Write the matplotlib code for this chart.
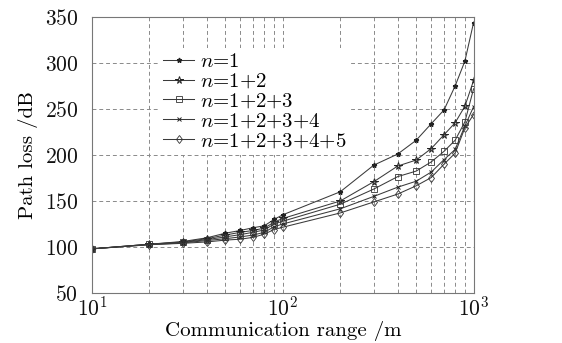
import matplotlib
matplotlib.use("Agg")
import matplotlib.pyplot as plt
from matplotlib.ticker import LogLocator, NullFormatter

plt.rcParams['font.family'] = ['cmr10', 'DejaVu Serif']
plt.rcParams['mathtext.fontset'] = 'cm'
plt.rcParams['axes.formatter.use_mathtext'] = True

distance = [10, 20, 30, 40, 50, 60, 70, 80, 90, 100,
            200, 300, 400, 500, 600, 700, 800, 900, 1000]
loss_n1 = [98, 103, 106, 110, 115, 118, 121, 123, 130, 135,
           160, 189, 201, 216, 234, 249, 275, 302, 344]
loss_n12 = [98, 103, 105.5, 109, 113, 116, 118, 120.5, 127, 131,
            150, 171, 188, 194.5, 207, 222, 235, 253, 281]
loss_n123 = [98, 103, 105, 108, 111, 113.5, 116, 118.5, 125, 128,
             146.5, 163, 176.5, 182.5, 192.5, 204, 216, 236, 272]
loss_n1234 = [98, 102.5, 104.5, 107, 109, 111, 113, 116, 122, 125,
              141.5, 155, 165, 171.5, 181.5, 195, 206, 231.5, 252.5]
loss_n12345 = [98, 102.5, 104, 105.5, 107.5, 108.5, 110.5, 114, 119, 121.5,
               137, 149, 157.5, 166.5, 175.5, 190, 202, 229.5, 244]
labels = ['$n$=1', '$n$=1+2', '$n$=1+2+3', '$n$=1+2+3+4', '$n$=1+2+3+4+5']
y_ticks = [50, 100, 150, 200, 250, 300, 350]

series = [loss_n1, loss_n12, loss_n123, loss_n1234, loss_n12345]
styles = [
    dict(marker='*', ms=3.5, mfc='#222222', mec='#222222'),
    dict(marker='*', ms=5.5, mfc='none', mec='#222222', mew=0.7),
    dict(marker='s', ms=4.5, mfc='none', mec='#333333', mew=0.6),
    dict(marker='x', ms=3, mec='#222222', mew=0.7),
    dict(marker='d', ms=4.5, mfc='none', mec='#333333', mew=0.6),
]

fig = plt.figure(figsize=(5.62, 3.43), dpi=100)
ax = fig.add_axes([0.1637, 0.1458, 0.6790, 0.8046])

for vals, lab, st in zip(series, labels, styles):
    ax.plot(distance, vals, color='#3a3a3a', lw=0.75, label=lab, **st)

ax.set_xscale('log')
ax.set_xlim(10, 1000)
ax.set_ylim(50, 350)
ax.set_yticks(y_ticks)
ax.xaxis.set_major_locator(LogLocator(base=10, numticks=5))
ax.xaxis.set_minor_locator(LogLocator(base=10, subs=range(2, 10), numticks=20))
ax.xaxis.set_minor_formatter(NullFormatter())

ax.grid(True, which='both', axis='x', color='#8a8a8a', ls=(0, (4, 3)), lw=0.7)
ax.grid(True, which='major', axis='y', color='#8a8a8a', ls=(0, (4, 3)), lw=0.7)
ax.tick_params(which='both', length=0, labelsize=15.5, colors='#111111')
ax.tick_params(axis='y', pad=10)
ax.tick_params(axis='x', pad=2)

for sp in ax.spines.values():
    sp.set_color('#777777')
    sp.set_linewidth(0.8)

ax.set_ylabel('Path loss /dB', fontsize=15, labelpad=5)
ax.set_xlabel('Communication range /m', fontsize=15, labelpad=1)

leg = ax.legend(loc='upper left', bbox_to_anchor=(0.175, 0.887), fontsize=15,
                frameon=True, facecolor='white', edgecolor='none', framealpha=1,
                handlelength=1.5, handletextpad=0.3, labelspacing=0.05,
                borderpad=0.2, borderaxespad=0)

fig.savefig('out.png', dpi=100)
